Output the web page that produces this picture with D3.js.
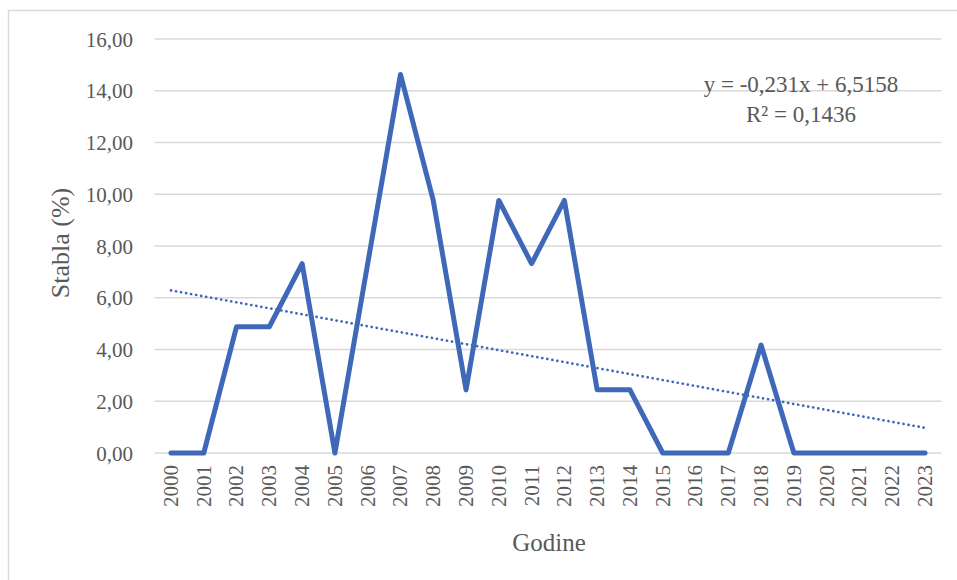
<!DOCTYPE html>
<html>
<head>
<meta charset="utf-8">
<script src="https://cdn.jsdelivr.net/npm/d3@7"></script>
<style>
  html, body { margin: 0; padding: 0; background: #fff; }
  svg { display: block; }
</style>
</head>
<body>
<svg id="chart" width="957" height="580"></svg>
<script>
// Share of trees (%) per year
const years = ["2000","2001","2002","2003","2004","2005","2006","2007","2008","2009","2010","2011",
               "2012","2013","2014","2015","2016","2017","2018","2019","2020","2021","2022","2023"];
const values = [0, 0, 4.88, 4.88, 7.32, 0, 7.32, 14.63, 9.76, 2.44, 9.76, 7.32,
                9.76, 2.44, 2.44, 0, 0, 0, 4.17, 0, 0, 0, 0, 0];
const yTicks = [0, 2, 4, 6, 8, 10, 12, 14, 16];
// Linear trend y = a·x + b, x = 1..n
const trendSlope = -0.231;
const trendIntercept = 6.5158;
const trendLabel = ["y = -0,231x + 6,5158", "R² = 0,1436"];

const FONT = "'Liberation Serif', 'Times New Roman', 'DejaVu Serif', serif";
const TXT = "#595959";

const svg = d3.select("#chart");
const W = 957, H = 580;
const plot = { left: 154.6, right: 941.4, top: 39, bottom: 453 };

// Chart frame
svg.append("path")
  .attr("d", `M8.5,${H} L8.5,10.5 L${W},10.5`)
  .attr("fill", "none").attr("stroke", "#d9d9d9").attr("stroke-width", 1.5);

const x = d3.scaleBand().domain(years).range([plot.left, plot.right]).padding(0);
const y = d3.scaleLinear().domain([0, 16]).range([plot.bottom, plot.top]);
const cx = d => x(d) + x.bandwidth() / 2;

const fmt = v => d3.format(".2f")(v).replace(".", ",");

// Horizontal gridlines
svg.append("g")
  .selectAll("line").data(yTicks).join("line")
  .attr("x1", plot.left).attr("x2", plot.right)
  .attr("y1", d => y(d)).attr("y2", d => y(d))
  .attr("stroke", "#d9d9d9").attr("stroke-width", 1.5);

// Y axis labels
const yAxis = d3.axisLeft(y).tickValues(yTicks).tickFormat(fmt).tickSize(0).tickPadding(0);
const gy = svg.append("g").attr("transform", `translate(133,0)`).call(yAxis);
gy.select(".domain").remove();
gy.selectAll("text")
  .style("font-family", FONT).style("font-size", "21px")
  .attr("fill", TXT).attr("dy", "0.34em");

// X axis labels (rotated)
const xAxis = d3.axisBottom(x).tickSize(0).tickPadding(0);
const gx = svg.append("g").attr("transform", `translate(0,${plot.bottom})`).call(xAxis);
gx.select(".domain").remove();
gx.selectAll("text")
  .style("font-family", FONT).style("font-size", "21px")
  .attr("fill", TXT)
  .attr("transform", "rotate(-90)")
  .attr("text-anchor", "end")
  .attr("x", -12).attr("y", 0).attr("dy", "0.33em");

// Data line
const line = d3.line().x((d, i) => cx(years[i])).y(d => y(d));
svg.append("path").datum(values)
  .attr("d", line)
  .attr("fill", "none").attr("stroke", "#3F68B8").attr("stroke-width", 5)
  .attr("stroke-linejoin", "round").attr("stroke-linecap", "round");

// Trend line (dotted)
const trend = years.map((yr, i) => [cx(yr), y(trendSlope * (i + 1) + trendIntercept)]);
svg.append("path").datum(trend)
  .attr("d", d3.line())
  .attr("fill", "none").attr("stroke", "#3F68B8").attr("stroke-width", 2.7)
  .attr("stroke-dasharray", "0.1,5").attr("stroke-linecap", "round");

// Trend equation
svg.append("g").selectAll("text").data(trendLabel).join("text")
  .attr("x", 801).attr("y", (d, i) => 92 + i * 30)
  .attr("text-anchor", "middle")
  .style("font-family", FONT).style("font-size", "23px")
  .attr("fill", TXT)
  .text(d => d);

// Axis titles
svg.append("text")
  .attr("transform", "translate(69,243) rotate(-90)")
  .attr("text-anchor", "middle")
  .style("font-family", FONT).style("font-size", "26px")
  .attr("fill", TXT)
  .text("Stabla (%)");

svg.append("text")
  .attr("x", 549).attr("y", 551)
  .attr("text-anchor", "middle")
  .style("font-family", FONT).style("font-size", "25px")
  .attr("fill", TXT)
  .text("Godine");
</script>
</body>
</html>
